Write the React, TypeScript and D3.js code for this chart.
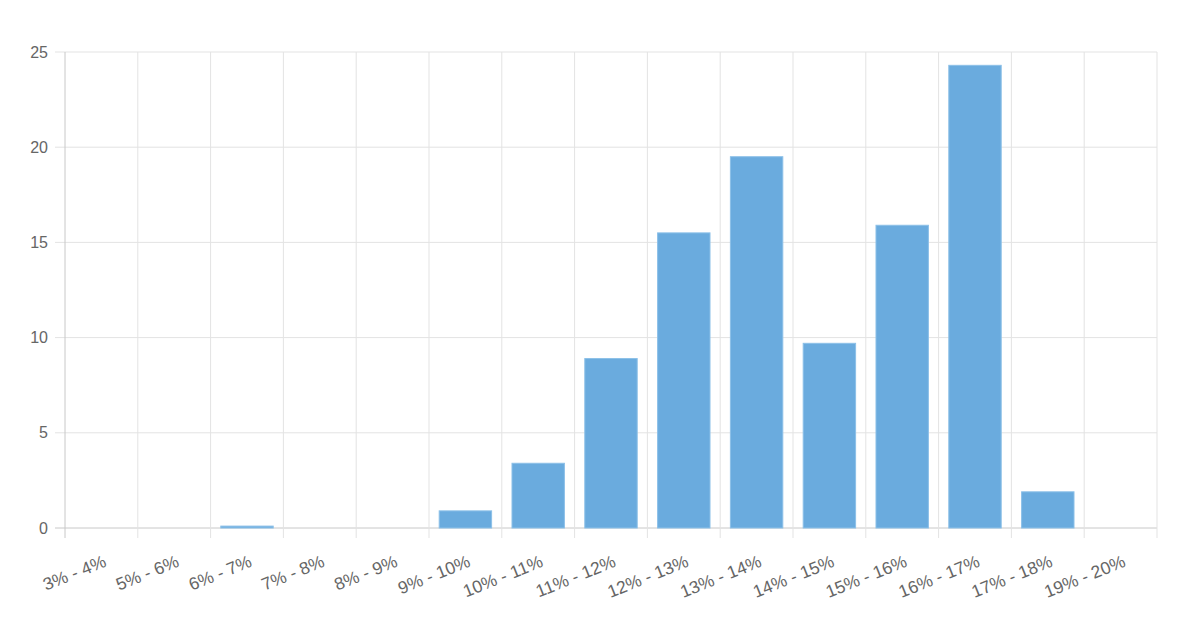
import React from "react";
import * as d3 from "d3";

const categories = ["3% - 4%", "5% - 6%", "6% - 7%", "7% - 8%", "8% - 9%", "9% - 10%", "10% - 11%", "11% - 12%", "12% - 13%", "13% - 14%", "14% - 15%", "15% - 16%", "16% - 17%", "17% - 18%", "19% - 20%"];
const values = [0, 0, 0.1, 0, 0, 0.9, 3.4, 8.9, 15.5, 19.5, 9.7, 15.9, 24.3, 1.9, 0];
const yTicks = [0, 5, 10, 15, 20, 25];

const W = 1200, H = 625;
const left = 65, right = 1157, top = 52, bottom = 528;
const FONT = "'Liberation Sans', Arial, Helvetica, sans-serif";

export default function App() {
  const x = d3.scaleBand<string>().domain(categories).range([left, right]).paddingInner(0).paddingOuter(0);
  const y = d3.scaleLinear().domain([0, 25]).range([bottom, top]);
  const bw = x.bandwidth() * 0.72;
  const bounds = categories.map((c) => x(c) as number).concat([right]);
  return (
    <svg width={W} height={H} style={{ position: "absolute", left: 0, top: 0, background: "#fff" }}>
      {yTicks.map((t) => (
        <g key={t}>
          <line x1={left - 10} x2={right} y1={y(t)} y2={y(t)} stroke={t === 0 ? "#c8c8c8" : "#e3e3e3"} strokeWidth={1} />
          <text x={48} y={y(t)} dy="0.35em" textAnchor="end" fontSize={16} fill="#666" fontFamily={FONT}>{t}</text>
        </g>
      ))}
      {bounds.map((bx, i) => (
        <line key={i} x1={bx} x2={bx} y1={top} y2={bottom + 10} stroke={i === 0 ? "#c8c8c8" : "#e3e3e3"} strokeWidth={1} />
      ))}
      {categories.map((c, i) => {
        const cx = (x(c) as number) + x.bandwidth() / 2;
        const v = values[i];
        const y0 = y(v);
        return (
          <g key={c}>
            {v > 0 && (
              <rect x={cx - bw / 2} y={y0} width={bw} height={bottom - y0} fill="#6aabde" stroke="#8cc0e8" strokeWidth={1} />
            )}
            <text transform={`translate(${cx + 6},${566}) rotate(-22)`} textAnchor="end" fontSize={17.5} fill="#666" fontFamily={FONT}>{c}</text>
          </g>
        );
      })}
    </svg>
  );
}
